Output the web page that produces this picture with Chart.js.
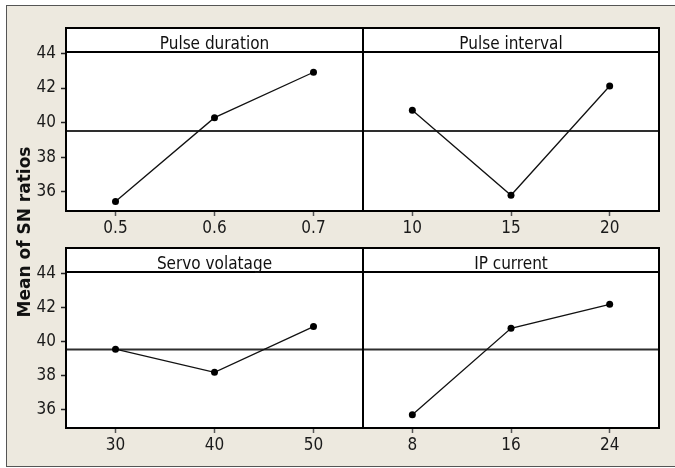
<!DOCTYPE html>
<html>
<head>
<meta charset="utf-8">
<script src="https://cdn.jsdelivr.net/npm/chart.js@4"></script>
<style>
  html, body { margin: 0; padding: 0; background: #fff; }
  #page { position: relative; width: 675px; height: 468px; overflow: hidden; background: #fff; }
  #frame { position: absolute; left: 6px; top: 5px; width: 680px; height: 460px;
           border: 1px solid #555; background: #ede9df; }
  canvas { position: absolute; }
  #ytitle { position: absolute; left: -101px; top: 222px; width: 250px; height: 20px;
            line-height: 20px; text-align: center; transform: rotate(-90deg);
            font: bold 17px 'DejaVu Sans', sans-serif; color: #111; }
</style>
</head>
<body>
<div id="page">
  <div id="frame"></div>
  <canvas id="tl" width="345" height="215" style="left:20px;top:26px"></canvas>
  <canvas id="tr" width="300" height="215" style="left:361px;top:26px"></canvas>
  <canvas id="bl" width="345" height="212" style="left:20px;top:246px"></canvas>
  <canvas id="br" width="300" height="212" style="left:361px;top:246px"></canvas>
  <div id="ytitle">Mean of SN ratios</div>
</div>
<script>
// ===== DATA =====
const durLevels = [0.5, 0.6, 0.7];
const durSN = [35.45, 40.29, 42.91];
const intLevels = [10, 15, 20];
const intSN = [40.72, 35.81, 42.12];
const servoLevels = [30, 40, 50];
const servoSN = [39.54, 38.18, 40.87];
const ipLevels = [8, 16, 24];
const ipSN = [35.68, 40.77, 42.18];
const yTicks = [36, 38, 40, 42, 44];
const grandMean = 39.52;

const labelFont = "'Liberation Sans Narrow', 'DejaVu Sans Condensed', 'Arial Narrow', sans-serif";
const STRIP = 24;

// ===== PANEL DECORATION: white area, strip, mean line, borders =====
const panelPlugin = {
  id: 'panel',
  beforeDraw(chart) {
    const { ctx, chartArea: a } = chart;
    ctx.save();
    ctx.fillStyle = '#fff';
    ctx.fillRect(a.left, a.top - STRIP, a.right - a.left, a.bottom - a.top + STRIP);
    ctx.restore();
  },
  beforeDatasetsDraw(chart) {
    const { ctx, chartArea: a, scales } = chart;
    const y = scales.y.getPixelForValue(grandMean);
    ctx.save();
    ctx.strokeStyle = '#2e2e2e';
    ctx.lineWidth = 1.8;
    ctx.beginPath();
    ctx.moveTo(a.left, y);
    ctx.lineTo(a.right, y);
    ctx.stroke();
    ctx.restore();
  },
  afterDraw(chart, args, opts) {
    const { ctx, chartArea: a } = chart;
    ctx.save();
    ctx.strokeStyle = '#000';
    ctx.lineWidth = 2;
    ctx.strokeRect(a.left, a.top - STRIP, a.right - a.left, a.bottom - a.top + STRIP);
    ctx.beginPath();
    ctx.moveTo(a.left, a.top);
    ctx.lineTo(a.right, a.top);
    ctx.stroke();
    ctx.fillStyle = '#111';
    ctx.font = '17px ' + labelFont;
    ctx.textAlign = 'center';
    ctx.textBaseline = 'alphabetic';
    ctx.fillText(opts.title, (a.left + a.right) / 2, a.top - 3.5);
    ctx.restore();
  }
};

function makePanel(id, title, levels, values, xMin, xMax, showY) {
  new Chart(document.getElementById(id), {
    type: 'line',
    data: {
      datasets: [{
        data: levels.map((x, i) => ({ x: x, y: values[i] })),
        borderColor: '#111',
        borderWidth: 1.3,
        backgroundColor: '#000',
        pointRadius: 3.5,
        pointBorderWidth: 0,
        tension: 0,
        clip: false
      }]
    },
    options: {
      responsive: false,
      animation: false,
      layout: { autoPadding: false, padding: { top: STRIP + 2, right: 2, left: showY ? 0 : 2, bottom: 0 } },
      plugins: {
        legend: { display: false },
        tooltip: { enabled: false },
        panel: { title: title }
      },
      scales: {
        x: {
          type: 'linear',
          min: xMin,
          max: xMax,
          afterBuildTicks: s => { s.ticks = levels.map(v => ({ value: v })); },
          afterFit: s => { s.height = 30; },
          grid: { drawOnChartArea: false, drawTicks: true, tickLength: 5, tickColor: '#555', tickWidth: 1.5 },
          border: { display: false },
          ticks: { padding: 2, color: '#1a1a1a', font: { family: labelFont, size: 17 }, callback: v => String(v), maxRotation: 0 }
        },
        y: {
          display: showY,
          min: 34.9,
          max: 44.08,
          afterBuildTicks: s => { s.ticks = yTicks.map(v => ({ value: v })); },
          afterFit: s => { s.width = showY ? 46 : 0; },
          grid: { drawOnChartArea: false, drawTicks: true, tickLength: 5, tickColor: '#222', tickWidth: 1.5 },
          border: { display: false },
          ticks: { padding: 5, color: '#1a1a1a', font: { family: labelFont, size: 17 } }
        }
      }
    },
    plugins: [panelPlugin]
  });
}

makePanel('tl', 'Pulse duration', durLevels, durSN, 0.45, 0.75, true);
makePanel('tr', 'Pulse interval', intLevels, intSN, 7.5, 22.5, false);
makePanel('bl', 'Servo volatage', servoLevels, servoSN, 25, 55, true);
makePanel('br', 'IP current', ipLevels, ipSN, 4, 28, false);
</script>
</body>
</html>
